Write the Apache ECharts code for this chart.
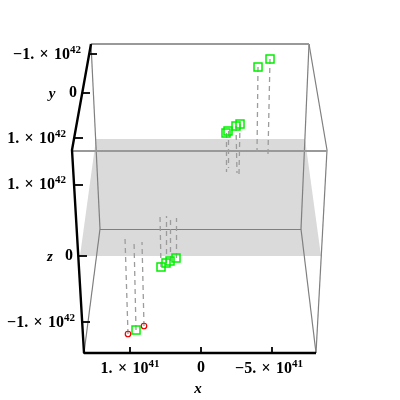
<!DOCTYPE html>
<html>
<head>
<meta charset="utf-8">
<style>
html, body { margin: 0; padding: 0; background: #fff; }
#main { width: 400px; height: 400px; }
</style>
<script src="https://cdn.jsdelivr.net/npm/echarts@6/dist/echarts.min.js"></script>
</head>
<body>
<div id="main"></div>
<script>
var planeCorners = [[96, 139], [305, 139], [321, 256], [80, 256]];

var boxEdges = [
    [[91, 44], [100, 229]],
    [[100, 229], [84, 353]],
    [[309, 44], [301, 229]],
    [[301, 229], [316, 353]],
    [[309, 44], [327, 150]],
    [[327, 150], [316, 353]],
    [[100, 229], [301, 229]]
];
var heavyEdges = [
    [[91, 44], [309, 44]],
    [[72, 151], [327, 151]]
];

var frameAxis = [[91, 44], [72, 150], [84, 353], [316, 353]];

var tickMarks = [
    [[89, 54], [97, 54]],
    [[82, 93], [90, 93]],
    [[75, 138], [83, 138]],
    [[75, 185], [83, 185]],
    [[78, 256], [87, 256]],
    [[83, 322], [90, 322]],
    [[130, 347], [130, 353]],
    [[201, 347], [201, 353]],
    [[272, 347], [272, 353]]
];

var greenPoints = [
    [270, 59], [258, 67], [240, 124], [236, 126], [228, 131], [226, 133],
    [176, 258], [170, 261], [166, 263], [161, 267], [136, 330]
];
var redPoints = [[128, 334], [144, 326]];

// where each drop line ends, same order as the points above
var greenDropEnds = [
    [268, 154], [257, 152], [239, 174], [237, 173], [228, 168], [226, 172],
    [176, 218], [170, 217], [166, 216], [160, 215], [134, 240]
];
var redDropEnds = [[125, 238], [142, 242]];

var tickLabels = [
    { pos: [81, 55], base: '\u22121.\u200a \u00d7\u200a 10', exp: '42', align: 'right' },
    { pos: [77, 93], base: '0', align: 'right' },
    { pos: [66, 139], base: '1.\u200a \u00d7\u200a 10', exp: '42', align: 'right' },
    { pos: [66, 185], base: '1.\u200a \u00d7\u200a 10', exp: '42', align: 'right' },
    { pos: [73, 256], base: '0', align: 'right' },
    { pos: [75, 323], base: '\u22121.\u200a \u00d7\u200a 10', exp: '42', align: 'right' },
    { pos: [130, 369], base: '1.\u200a \u00d7\u200a 10', exp: '41', align: 'center' },
    { pos: [201, 368], base: '0', align: 'center' },
    { pos: [269, 369], base: '\u22125.\u200a \u00d7\u200a 10', exp: '41', align: 'center' }
];
var axisNames = [
    { pos: [52, 94], name: 'y' },
    { pos: [50, 257], name: 'z' },
    { pos: [198, 389], name: 'x' }
];

function dropLines(points, ends) {
    return points.map(function (p, i) {
        return { coords: [p, ends[i]] };
    });
}

function edgeData(list) {
    return list.map(function (e) {
        return { coords: e };
    });
}

var myChart = echarts.init(document.getElementById('main'), null, { renderer: 'canvas' });

var textFamily = '"Liberation Serif", "Times New Roman", serif';

var option = {
    animation: false,
    grid: { left: 0, right: 0, top: 0, bottom: 0 },
    xAxis: { type: 'value', min: 0, max: 400, show: false },
    yAxis: { type: 'value', min: 0, max: 400, inverse: true, show: false },
    series: [
        {
            type: 'custom',
            coordinateSystem: 'cartesian2d',
            z: 1,
            silent: true,
            data: [0],
            renderItem: function (params, api) {
                return {
                    type: 'polygon',
                    shape: { points: planeCorners.map(function (c) { return api.coord(c); }) },
                    style: { fill: '#dadada' }
                };
            }
        },
        {
            type: 'lines',
            coordinateSystem: 'cartesian2d',
            z: 2,
            silent: true,
            lineStyle: { color: '#7f7f7f', width: 1.2, opacity: 1 },
            data: edgeData(boxEdges)
        },
        {
            type: 'lines',
            coordinateSystem: 'cartesian2d',
            z: 2,
            silent: true,
            lineStyle: { color: '#999', width: 1.8, opacity: 1 },
            data: edgeData(heavyEdges)
        },
        {
            type: 'lines',
            coordinateSystem: 'cartesian2d',
            z: 3,
            silent: true,
            lineStyle: { color: '#9c9c9c', width: 1.3, opacity: 1, type: [5, 4] },
            data: dropLines(greenPoints, greenDropEnds).concat(dropLines(redPoints, redDropEnds))
        },
        {
            type: 'line',
            z: 4,
            silent: true,
            symbol: 'none',
            lineStyle: { color: '#000', width: 2.4 },
            data: frameAxis
        },
        {
            type: 'lines',
            coordinateSystem: 'cartesian2d',
            z: 4,
            silent: true,
            lineStyle: { color: '#000', width: 1.8, opacity: 1 },
            data: edgeData(tickMarks)
        },
        {
            type: 'scatter',
            z: 5,
            silent: true,
            symbol: 'rect',
            symbolSize: 8,
            itemStyle: { color: 'rgba(0,0,0,0)', borderColor: '#00f000', borderWidth: 1.5, opacity: 1 },
            data: greenPoints
        },
        {
            type: 'scatter',
            z: 5,
            silent: true,
            symbol: 'circle',
            symbolSize: 5.5,
            itemStyle: { color: 'rgba(0,0,0,0)', borderColor: '#f00000', borderWidth: 1.2, opacity: 1 },
            data: redPoints
        },
        {
            type: 'custom',
            coordinateSystem: 'cartesian2d',
            z: 6,
            silent: true,
            data: tickLabels.map(function (l, i) { return i; }),
            renderItem: function (params, api) {
                var l = tickLabels[params.dataIndex];
                var pt = api.coord(l.pos);
                return {
                    type: 'text',
                    x: pt[0],
                    y: pt[1],
                    style: {
                        text: l.exp ? '{b|' + l.base + '}{s|' + l.exp + '}' : '{b|' + l.base + '}',
                        align: l.align,
                        verticalAlign: 'middle',
                        rich: {
                            b: { fontFamily: textFamily, fontWeight: 'bold', fontSize: 16, fill: '#000', color: '#000' },
                            s: { fontFamily: textFamily, fontWeight: 'bold', fontSize: 11, fill: '#000', color: '#000', padding: [0, 0, 9, 0] }
                        }
                    }
                };
            }
        },
        {
            type: 'custom',
            coordinateSystem: 'cartesian2d',
            z: 6,
            silent: true,
            data: axisNames.map(function (l, i) { return i; }),
            renderItem: function (params, api) {
                var l = axisNames[params.dataIndex];
                var pt = api.coord(l.pos);
                return {
                    type: 'text',
                    x: pt[0],
                    y: pt[1],
                    style: {
                        text: l.name,
                        align: 'center',
                        verticalAlign: 'middle',
                        font: 'italic bold 15px ' + textFamily,
                        fill: '#000'
                    }
                };
            }
        }
    ]
};

myChart.setOption(option);
</script>
</body>
</html>
